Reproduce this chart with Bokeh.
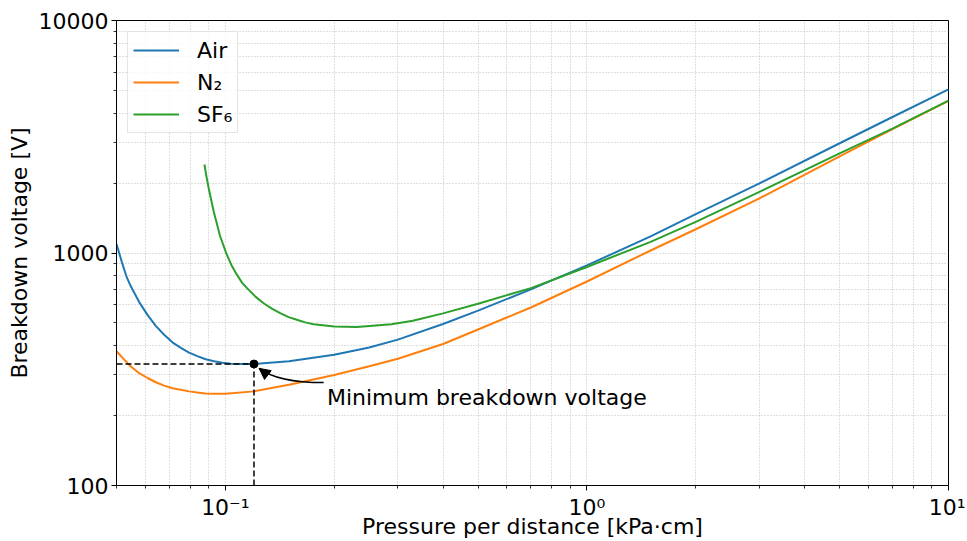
from bokeh.plotting import figure
from bokeh.models import FixedTicker, Label, Arrow, NormalHead
from bokeh.embed import file_html
from bokeh.resources import INLINE

# ---- data ----
air_x = [0.05, 0.05187, 0.05336, 0.05481, 0.05778, 0.0609, 0.0642, 0.06772, 0.07139, 0.0753, 0.07938,
         0.08368, 0.08822, 0.09307, 0.09811, 0.1035, 0.12, 0.15, 0.2, 0.25, 0.3, 0.4, 0.5, 0.7,
         1.0, 1.5, 2, 3, 5, 7, 10]
air_y = [1094, 902, 787, 717, 615, 542, 486, 445, 413, 391, 373,
         360, 349, 342, 337, 334, 333, 342, 365, 392, 424, 495, 565, 698,
         884, 1180, 1469, 1991, 2965, 3846, 5058]

n2_x = [0.05, 0.0525, 0.05481, 0.05778, 0.0609, 0.0642, 0.06772, 0.07139, 0.0753, 0.07938, 0.08368,
        0.08822, 0.09307, 0.1, 0.12, 0.15, 0.2, 0.25, 0.3, 0.4, 0.5, 0.7, 1.0, 1.5, 2, 3, 5, 7, 10]
n2_y = [378, 348, 325, 304, 290, 278, 269, 262, 258, 254, 251,
        249, 248, 248, 254, 271, 299, 326, 351, 406, 469, 583, 754, 1025, 1265, 1718, 2606, 3413, 4508]

sf6_x = [0.08752, 0.08873, 0.08998, 0.09142, 0.09289, 0.09669, 0.1006, 0.1041, 0.1077, 0.1112, 0.1148,
         0.1211, 0.1276, 0.1345, 0.1418, 0.1496, 0.1577, 0.1663, 0.1754, 0.2, 0.2311, 0.288, 0.33,
         0.4, 0.5, 0.7, 1.0, 1.5, 2, 3, 5, 7, 10]
sf6_y = [2403, 2121, 1895, 1685, 1504, 1183, 997, 883, 805, 746, 706,
         649, 608, 576, 551, 530, 516, 503, 494, 483, 480, 494, 511,
         550, 605, 706, 871, 1117, 1362, 1833, 2680, 3428, 4520]

series_names = ["Air", "N\u2082", "SF\u2086"]
series_colors = ["#1f77b4", "#ff7f0e", "#2ca02c"]

x_lo, x_hi = 0.05, 10
y_lo, y_hi = 100, 10000

x_major = [0.1, 1, 10]
x_labels = ["10\u207b\u00b9", "10\u2070", "10\u00b9"]
x_minor = [0.05, 0.06, 0.07, 0.08, 0.09, 0.2, 0.3, 0.4, 0.5, 0.6, 0.7, 0.8, 0.9,
           2, 3, 4, 5, 6, 7, 8, 9]
y_major = [100, 1000, 10000]
y_labels = ["100", "1000", "10000"]
y_minor = [200, 300, 400, 500, 600, 700, 800, 900, 2000, 3000, 4000, 5000, 6000, 7000, 8000, 9000]

# annotation (minimum of the Air curve)
min_x, min_y = 0.12, 333
note_text = "Minimum breakdown voltage"
note_x, note_y = 0.191, 238
arrow_tail = (0.187, 277)
arrow_ctrl = (0.1396, 277)
arrow_tip = (0.124, 319)

x_title = "Pressure per distance [kPa\u00b7cm]"
y_title = "Breakdown voltage [V]"

FONT = "DejaVu Sans"

p = figure(width=965, height=541, x_axis_type="log", y_axis_type="log",
           x_range=(x_lo, x_hi), y_range=(y_lo, y_hi),
           output_backend="svg", toolbar_location=None,
           min_border_left=116, min_border_right=17, min_border_top=20, min_border_bottom=55)
p.background_fill_color = "white"
p.border_fill_color = "white"
p.outline_line_color = "black"
p.outline_line_width = 1

xt = FixedTicker(ticks=x_major, minor_ticks=x_minor)
yt = FixedTicker(ticks=y_major, minor_ticks=y_minor)
p.xaxis.ticker = xt
p.yaxis.ticker = yt
p.xgrid.ticker = xt
p.ygrid.ticker = yt
p.xaxis.major_label_overrides = dict(zip(x_major, x_labels))
p.yaxis.major_label_overrides = dict(zip(y_major, y_labels))

for ax in (p.xaxis, p.yaxis):
    ax.axis_line_color = "black"
    ax.major_tick_line_color = "black"
    ax.minor_tick_line_color = "black"
    ax.major_tick_out = 5
    ax.major_tick_in = 0
    ax.minor_tick_out = 3
    ax.minor_tick_in = 0
    ax.major_tick_line_width = 1
    ax.minor_tick_line_width = 0.8
    ax.major_label_text_font = FONT
    ax.major_label_text_font_size = "22px"
    ax.major_label_text_color = "black"
    ax.axis_label_text_font = FONT
    ax.axis_label_text_font_size = "22px"
    ax.axis_label_text_font_style = "normal"
    ax.axis_label_text_color = "black"

p.xaxis.axis_label = x_title
p.yaxis.axis_label = y_title
p.xaxis.major_label_standoff = 4
p.yaxis.major_label_standoff = 3
p.xaxis.axis_label_standoff = -9
p.yaxis.axis_label_standoff = 4

for g in (p.xgrid, p.ygrid):
    g.grid_line_color = "#b0b0b0"
    g.grid_line_dash = "1 2"
    g.grid_line_width = 0.8
    g.minor_grid_line_color = "#b0b0b0"
    g.minor_grid_line_dash = "1 2"
    g.minor_grid_line_width = 0.8

# curves
for xs, ys, name, col in zip([air_x, n2_x, sf6_x], [air_y, n2_y, sf6_y], series_names, series_colors):
    p.line(xs, ys, line_color=col, line_width=2, legend_label=name)

# annotation: dashed guides, marker, arrow, text
p.line([x_lo, min_x], [min_y, min_y], line_color="black", line_width=1.5, line_dash="6 3")
p.line([min_x, min_x], [y_lo, min_y], line_color="black", line_width=1.5, line_dash="6 3")
p.scatter([min_x], [min_y], size=8, color="black")
p.quadratic(x0=[arrow_tail[0]], y0=[arrow_tail[1]], x1=[arrow_tip[0]], y1=[arrow_tip[1]],
            cx=[arrow_ctrl[0]], cy=[arrow_ctrl[1]], line_color="black", line_width=1.5)
p.add_layout(Arrow(end=NormalHead(size=11, fill_color="black", line_color="black", line_width=1),
                   x_start=arrow_ctrl[0], y_start=arrow_ctrl[1], x_end=arrow_tip[0], y_end=arrow_tip[1],
                   line_alpha=0))
p.add_layout(Label(x=note_x, y=note_y, text=note_text, text_font=FONT, text_font_size="22px",
                   text_align="left", text_baseline="alphabetic", text_color="black"))

# legend
lg = p.legend[0]
lg.location = "top_left"
lg.margin = 11
lg.padding = 5
lg.spacing = 6
lg.label_height = 26
lg.glyph_height = 26
lg.glyph_width = 46
lg.label_standoff = 18
lg.label_text_font = FONT
lg.label_text_font_size = "22px"
lg.label_text_color = "black"
lg.border_line_color = "#cccccc"
lg.border_line_width = 1
lg.background_fill_color = "white"
lg.background_fill_alpha = 0.8

open("out.html", "w").write(file_html(p, INLINE))
